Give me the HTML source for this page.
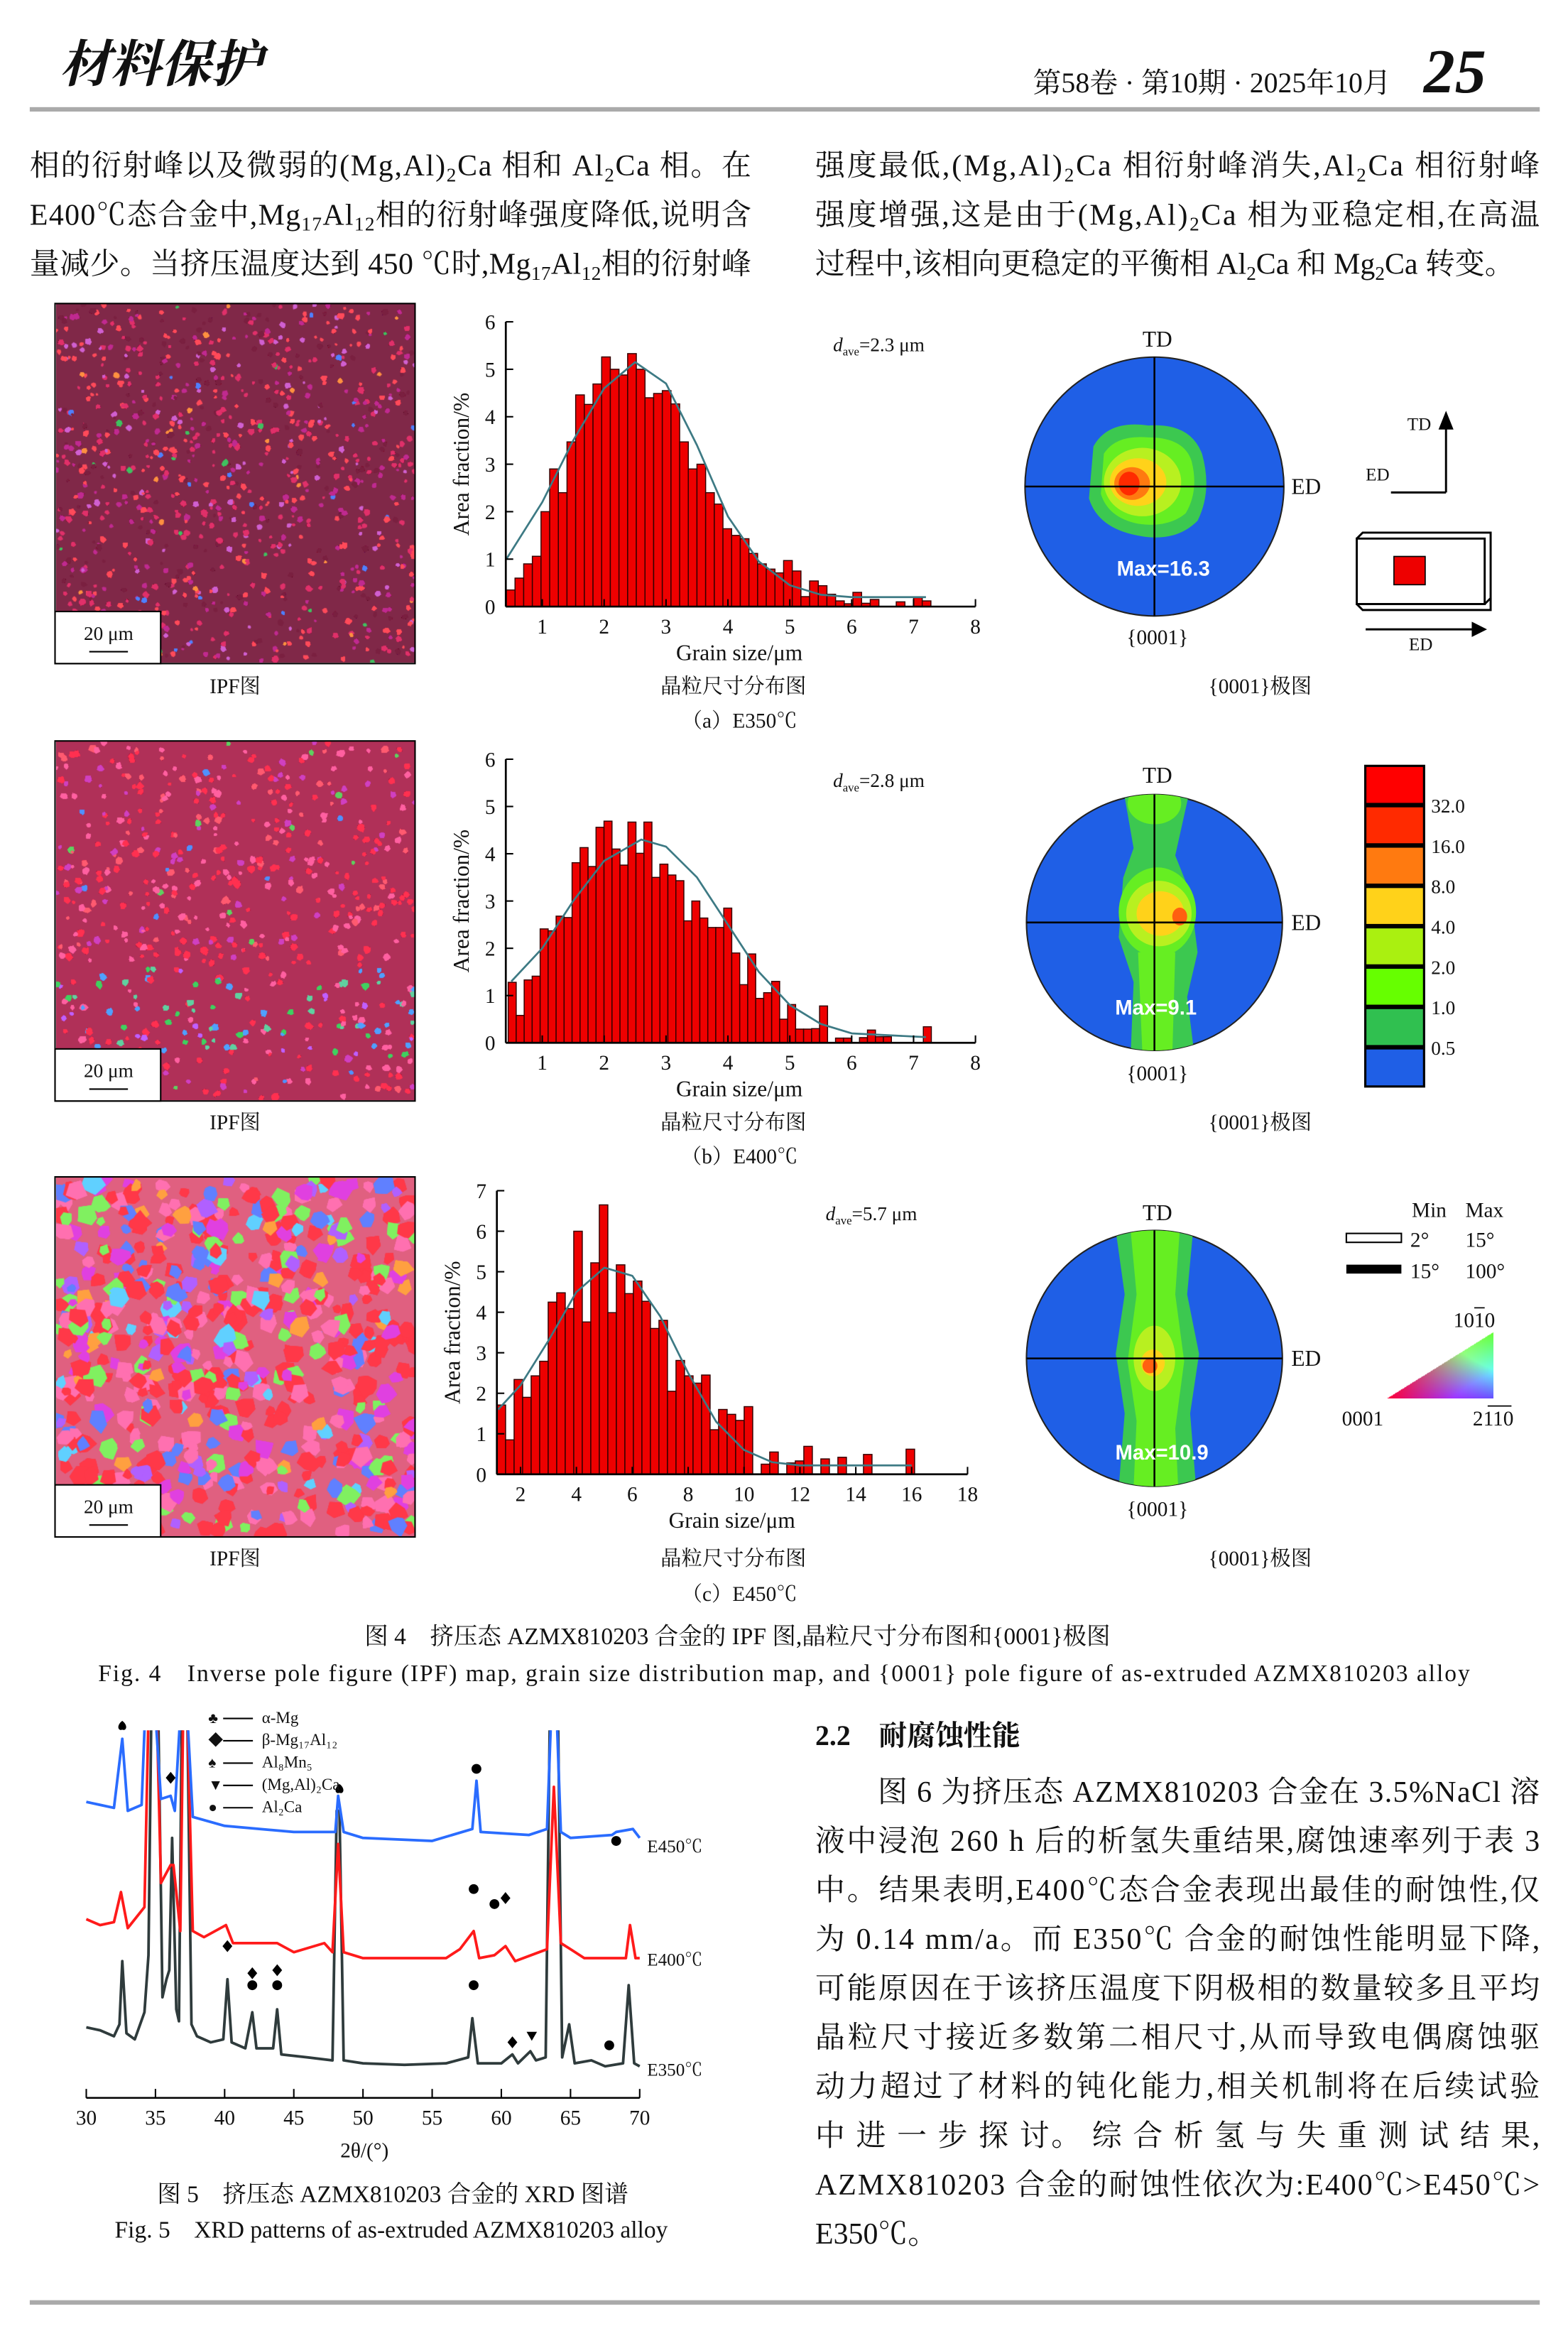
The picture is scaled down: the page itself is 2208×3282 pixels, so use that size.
<!DOCTYPE html>
<html><head><meta charset="utf-8"><style>
html,body{margin:0;padding:0;background:#fff}
#page{position:relative;width:2208px;height:3282px;overflow:hidden;background:#fff}
svg{position:absolute;left:0;top:0}
canvas{position:absolute}
text{font-family:"Liberation Serif","Noto Serif CJK SC",serif;fill:#111}
.sans{font-family:"Liberation Sans","Noto Sans CJK SC",sans-serif}
</style></head><body>
<div id="page">
<canvas id="ipfA"></canvas>
<canvas id="ipfB"></canvas>
<canvas id="ipfC"></canvas>
<canvas id="tri"></canvas>
<svg id="main" width="2208" height="3282" viewBox="0 0 1054 1566.7" preserveAspectRatio="none">
<defs>
<clipPath id="xrdClip"><rect x="55" y="1163" width="380" height="250"/></clipPath>
<clipPath id="pfA"><circle cx="776" cy="327" r="87"/></clipPath>
<clipPath id="pfB"><circle cx="776" cy="620" r="86"/></clipPath>
<clipPath id="pfC"><circle cx="776" cy="913" r="86"/></clipPath>
</defs>
<g>
<text x="40" y="55" font-size="34" font-style="italic" font-weight="bold">材料保护</text>
<text x="935" y="62" font-size="19" text-anchor="end" fill="#333">第58卷 · 第10期 · 2025年10月</text>
<text x="957" y="62" font-size="42" font-weight="bold" font-style="italic">25</text>
<rect x="20" y="72" width="1015" height="3" fill="#aaa"/>
</g>
<g font-size="20">
<text x="20" y="118" textLength="485" lengthAdjust="spacing">相的衍射峰以及微弱的(Mg,Al)<tspan font-size="13" dy="4">2</tspan><tspan dy="-4">Ca 相和 Al</tspan><tspan font-size="13" dy="4">2</tspan><tspan dy="-4">Ca 相。在</tspan></text>
<text x="20" y="151" textLength="485" lengthAdjust="spacing">E400℃态合金中,Mg<tspan font-size="13" dy="4">17</tspan><tspan dy="-4">Al</tspan><tspan font-size="13" dy="4">12</tspan><tspan dy="-4">相的衍射峰强度降低,说明含</tspan></text>
<text x="20" y="184" textLength="485" lengthAdjust="spacing">量减少。当挤压温度达到 450 ℃时,Mg<tspan font-size="13" dy="4">17</tspan><tspan dy="-4">Al</tspan><tspan font-size="13" dy="4">12</tspan><tspan dy="-4">相的衍射峰</tspan></text>
<text x="548" y="118" textLength="487" lengthAdjust="spacing">强度最低,(Mg,Al)<tspan font-size="13" dy="4">2</tspan><tspan dy="-4">Ca 相衍射峰消失,Al</tspan><tspan font-size="13" dy="4">2</tspan><tspan dy="-4">Ca 相衍射峰</tspan></text>
<text x="548" y="151" textLength="487" lengthAdjust="spacing">强度增强,这是由于(Mg,Al)<tspan font-size="13" dy="4">2</tspan><tspan dy="-4">Ca 相为亚稳定相,在高温</tspan></text>
<text x="548" y="184" textLength="470" lengthAdjust="spacing">过程中,该相向更稳定的平衡相 Al<tspan font-size="13" dy="4">2</tspan><tspan dy="-4">Ca 和 Mg</tspan><tspan font-size="13" dy="4">2</tspan><tspan dy="-4">Ca 转变。</tspan></text>
</g>
<g id="ipfFrames"></g>
<g id="histA"></g>
<g id="histB"></g>
<g id="histC"></g>
<g>
<circle cx="776" cy="327" r="87" fill="#1f5fe6" stroke="#222" stroke-width="1"/>
<g clip-path="url(#pfA)">
<path d="M735 300 Q745 282 772 286 Q800 284 808 305 Q815 330 805 350 Q790 365 765 360 Q738 355 732 335 Z" fill="#3cc850"/>
<path d="M742 305 Q750 292 772 294 Q796 294 801 310 Q806 330 797 345 Q785 355 765 352 Q745 348 740 332 Z" fill="#66ee22"/>
<ellipse cx="768" cy="324" rx="26" ry="23" fill="#b8f020"/>
<ellipse cx="765" cy="324" rx="19" ry="16" fill="#ffd21a"/>
<ellipse cx="761" cy="325" rx="12" ry="11" fill="#ff7a10"/>
<ellipse cx="759" cy="325" rx="7" ry="8" fill="#ff2a00"/>
</g>
<line x1="689" y1="327" x2="863" y2="327" stroke="#000" stroke-width="1.2"/>
<line x1="776" y1="240" x2="776" y2="414" stroke="#000" stroke-width="1.2"/>
<text x="782" y="387" font-size="14" font-weight="bold" class="sans" text-anchor="middle" style="fill:#fff">Max=16.3</text>
<text x="778" y="233" font-size="15" text-anchor="middle">TD</text>
<text x="868" y="332" font-size="15">ED</text>
<text x="778" y="433" font-size="14" text-anchor="middle">{0001}</text>
</g>
<g>
<circle cx="776" cy="620" r="86" fill="#1f5fe6" stroke="#222" stroke-width="1"/>
<g clip-path="url(#pfB)">
<path d="M755 530 L800 530 L790 575 L800 600 L805 640 L798 670 L803 710 L760 710 L762 660 L752 630 L755 590 L762 570 Z" fill="#3cc850"/>
<ellipse cx="776" cy="540" rx="18" ry="14" fill="#66ee22"/>
<path d="M765 640 L790 640 L788 710 L768 710 Z" fill="#66ee22"/>
<ellipse cx="778" cy="613" rx="26" ry="30" fill="#66ee22"/>
<ellipse cx="779" cy="614" rx="22" ry="22" fill="#b8f020"/>
<ellipse cx="780" cy="614" rx="16" ry="15" fill="#ffd21a"/>
<ellipse cx="793" cy="616" rx="5" ry="6" fill="#ff6010"/>
</g>
<line x1="690" y1="620" x2="862" y2="620" stroke="#000" stroke-width="1.2"/>
<line x1="776" y1="534" x2="776" y2="706" stroke="#000" stroke-width="1.2"/>
<text x="777" y="682" font-size="14" font-weight="bold" class="sans" text-anchor="middle" style="fill:#fff">Max=9.1</text>
<text x="778" y="526" font-size="15" text-anchor="middle">TD</text>
<text x="868" y="625" font-size="15">ED</text>
<text x="778" y="726" font-size="14" text-anchor="middle">{0001}</text>
</g>
<g>
<circle cx="776" cy="913" r="86" fill="#1f5fe6" stroke="#222" stroke-width="1"/>
<g clip-path="url(#pfC)">
<path d="M750 827 L802 827 L798 870 L806 910 L800 950 L804 1000 L752 1000 L756 950 L750 910 L756 870 Z" fill="#3cc850"/>
<path d="M760 827 L793 827 L790 870 L796 915 L790 960 L792 1000 L762 1000 L764 955 L758 915 L764 870 Z" fill="#66ee22"/>
<ellipse cx="776" cy="913" rx="14" ry="22" fill="#b8f020"/>
<ellipse cx="775" cy="916" rx="8" ry="9" fill="#ffd21a"/>
<ellipse cx="773" cy="918" rx="5" ry="5" fill="#ff6010"/>
</g>
<line x1="690" y1="913" x2="862" y2="913" stroke="#000" stroke-width="1.2"/>
<line x1="776" y1="827" x2="776" y2="999" stroke="#000" stroke-width="1.2"/>
<text x="781" y="981" font-size="14" font-weight="bold" class="sans" text-anchor="middle" style="fill:#fff">Max=10.9</text>
<text x="778" y="820" font-size="15" text-anchor="middle">TD</text>
<text x="868" y="918" font-size="15">ED</text>
<text x="778" y="1019" font-size="14" text-anchor="middle">{0001}</text>
</g>
<g stroke="#000" fill="none" stroke-width="1.4">
<line x1="972" y1="331" x2="972" y2="285"/>
<path d="M968 288 L972 278 L976 288 Z" fill="#000"/>
<line x1="972" y1="331" x2="935" y2="331"/>
<path d="M912 362 L998 362 L998 406 L912 406 Z" fill="#fff"/>
<path d="M912 362 L916 358 L1002 358 L1002 402 L998 406" />
<path d="M912 406 L916 410 L1002 410 L1002 402"/>
<rect x="937" y="374" width="21" height="19" fill="#ee0000" stroke="#000" stroke-width="0.8"/>
<line x1="918" y1="423" x2="993" y2="423"/>
<path d="M990 419 L998 423 L990 427 Z" fill="#000"/>
</g>
<text x="946" y="289" font-size="12">TD</text>
<text x="918" y="323" font-size="12">ED</text>
<text x="947" y="437" font-size="12">ED</text>
<g id="colorLegend"></g>
<g>
<text x="949" y="818" font-size="14">Min</text><text x="985" y="818" font-size="14">Max</text>
<rect x="905" y="829" width="37" height="6" fill="#fff" stroke="#000" stroke-width="1"/>
<text x="948" y="838" font-size="14">2°</text><text x="985" y="838" font-size="14">15°</text>
<rect x="905" y="850" width="37" height="6" fill="#000"/>
<text x="948" y="859" font-size="14">15°</text><text x="985" y="859" font-size="14">100°</text>
<text x="977" y="892" font-size="14">1010</text>
<line x1="991" y1="879" x2="998" y2="879" stroke="#000" stroke-width="0.8"/>
<text x="902" y="958" font-size="14">0001</text>
<text x="990" y="958" font-size="14">2110</text>
<line x1="1000" y1="945" x2="1016" y2="945" stroke="#000" stroke-width="0.8"/>
</g>
<g font-size="14">
<text x="158" y="466" text-anchor="middle">IPF图</text><text x="493" y="466" text-anchor="middle">晶粒尺寸分布图</text><text x="847" y="466" text-anchor="middle">{0001}极图</text>
<text x="497" y="489" text-anchor="middle">（a）E350℃</text>
<text x="158" y="759" text-anchor="middle">IPF图</text><text x="493" y="759" text-anchor="middle">晶粒尺寸分布图</text><text x="847" y="759" text-anchor="middle">{0001}极图</text>
<text x="497" y="782" text-anchor="middle">（b）E400℃</text>
<text x="158" y="1052" text-anchor="middle">IPF图</text><text x="493" y="1052" text-anchor="middle">晶粒尺寸分布图</text><text x="847" y="1052" text-anchor="middle">{0001}极图</text>
<text x="497" y="1076" text-anchor="middle">（c）E450℃</text>
</g>
<text x="245" y="1105" font-size="16">图 4　挤压态 AZMX810203 合金的 IPF 图,晶粒尺寸分布图和{0001}极图</text>
<text x="66" y="1130" font-size="16" textLength="922" lengthAdjust="spacing">Fig. 4　Inverse pole figure (IPF) map, grain size distribution map, and {0001} pole figure of as-extruded AZMX810203 alloy</text>
<g id="xrd"></g>
<text x="264" y="1480" font-size="16" text-anchor="middle">图 5　挤压态 AZMX810203 合金的 XRD 图谱</text>
<text x="263" y="1504" font-size="16" text-anchor="middle">Fig. 5　XRD patterns of as-extruded AZMX810203 alloy</text>
<text x="548" y="1173" font-size="19" font-weight="bold">2.2　耐腐蚀性能</text>
<g font-size="20">
<text x="590" y="1211" textLength="445" lengthAdjust="spacing">图 6 为挤压态 AZMX810203 合金在 3.5%NaCl 溶</text>
<text x="548" y="1244" textLength="487" lengthAdjust="spacing">液中浸泡 260 h 后的析氢失重结果,腐蚀速率列于表 3</text>
<text x="548" y="1277" textLength="487" lengthAdjust="spacing">中。结果表明,E400℃态合金表现出最佳的耐蚀性,仅</text>
<text x="548" y="1310" textLength="487" lengthAdjust="spacing">为 0.14 mm/a。而 E350℃ 合金的耐蚀性能明显下降,</text>
<text x="548" y="1343" textLength="487" lengthAdjust="spacing">可能原因在于该挤压温度下阴极相的数量较多且平均</text>
<text x="548" y="1376" textLength="487" lengthAdjust="spacing">晶粒尺寸接近多数第二相尺寸,从而导致电偶腐蚀驱</text>
<text x="548" y="1409" textLength="487" lengthAdjust="spacing">动力超过了材料的钝化能力,相关机制将在后续试验</text>
<text x="548" y="1442" textLength="487" lengthAdjust="spacing">中 进 一 步 探 讨。 综 合 析 氢 与 失 重 测 试 结 果,</text>
<text x="548" y="1475" textLength="487" lengthAdjust="spacing">AZMX810203 合金的耐蚀性依次为:E400℃&gt;E450℃&gt;</text>
<text x="548" y="1508">E350℃。</text>
</g>
<rect x="20" y="1546" width="1015" height="3" fill="#aaa"/>
</svg>
</div>
<script>
const binStartA = 0.42, binWidthA = 0.14;
const heightsA = [0.35,0.6,0.9,1.06,2.0,2.9,2.4,3.47,4.46,4.26,4.69,5.26,5.0,4.88,5.33,5.0,4.4,4.49,4.55,4.27,3.47,2.9,3.0,2.4,2.16,1.64,1.5,1.43,1.12,0.9,0.79,0.71,0.97,0.75,0.21,0.54,0.44,0.26,0.12,0.06,0.3,0.07,0.15,0,0,0.1,0,0.19,0.12];
const fitXA = [0.42,1,1.5,2,2.5,3,3.5,4,4.5,5,5.5,6,7.2];
const fitYA = [1.0,2.2,3.5,4.6,5.15,4.7,3.4,1.9,0.95,0.45,0.25,0.2,0.2];
const binStartB = 0.45, binWidthB = 0.129;
const heightsB = [1.28,0.58,1.33,1.41,2.41,2.37,2.68,2.65,3.81,4.13,3.73,4.56,4.69,4.1,3.76,4.67,4.01,4.67,3.5,3.78,3.55,3.43,2.58,3.0,2.64,2.44,2.44,2.85,1.9,1.23,1.88,0.94,1.06,1.3,0.5,0.81,0.29,0.29,0.3,0.78,0,0.1,0.1,0,0.11,0.27,0.13,0.13,0,0,0,0,0.34];
const fitXB = [0.5,1,1.5,2,2.6,3,3.5,4,4.5,5,5.5,6,7.2];
const fitYB = [1.3,2.0,3.0,3.85,4.3,4.15,3.5,2.5,1.5,0.8,0.4,0.2,0.12];
const binStartC = 1.16, binWidthC = 0.305;
const heightsC = [1.71,0.85,2.34,1.9,2.43,2.79,4.25,4.48,4.09,6.0,3.76,5.22,6.65,3.99,5.17,4.46,4.77,4.27,3.6,3.8,2.05,2.81,2.43,2.25,2.45,1.1,1.6,1.48,1.33,1.67,0,0.25,0.55,0,0.28,0.33,0.69,0,0.38,0,0.42,0,0,0.49,0,0,0,0,0.62];
const fitXC = [1.2,2,3,4,5,6,7,8,9,10,11,12,16];
const fitYC = [1.6,2.2,3.3,4.5,5.1,4.9,3.9,2.5,1.3,0.6,0.3,0.22,0.22];
const xTicksAB = [1,2,3,4,5,6,7,8];
const yTicksAB = [0,1,2,3,4,5,6];
const xTicksC = [2,4,6,8,10,12,14,16,18];
const yTicksC = [0,1,2,3,4,5,6,7];

const thetaE350 = [30,31,32,32.4,32.6,32.9,33.5,34.2,34.5,34.7,35.2,35.5,35.8,36.0,36.2,36.5,36.7,36.9,37.3,37.6,38,39,39.9,40.2,40.5,41.5,42,42.3,43.5,43.8,44.1,46,47.8,48.1,48.3,48.6,50,53,56,57.6,57.9,58.3,60,60.8,61.2,62.1,62.5,63.2,63.5,64.1,64.4,64.9,65.3,66.5,67.5,68.8,69.2,69.6,70];
const intE350 = [21,20,18,22,43,19,17,26,45,125,125,31,37,40,84,27,23,125,125,22,18,16,17,37,16,14,26,14,14,27,12,11,10,93,93,10,9,8.5,9,11,24,9,9,12,9,13,10,11,125,125,11,22,9,10,8,9,35,9,8];
const thetaE400 = [30,31,32,32.5,33,34.2,34.5,35.1,35.4,36.1,36.3,36.8,37.0,37.3,37.7,38.5,40.1,40.6,42,43.8,45,47.2,47.8,48.2,48.6,50,53,56,57,58,58.4,59.5,60.3,61,63.3,63.8,64.3,65,66,69,69.3,69.7,70];
const intE400 = [57,55,56,66,54,61,125,125,69,75,75,53,125,125,53,51,55,49,49,49,46,49,46,82,46,44,44,44,47,53,44,45,48,43,47,101,49,47,44,44,55,44,44];
const thetaE450 = [30,31,32,32.6,33,34,34.25,35.0,35.4,36.1,36.4,36.8,37.3,37.7,40,45,48.0,48.2,48.6,50,55,57.9,58.2,58.5,62,63.3,63.6,64.0,64.3,65,68,68.3,69.5,70];
const intE450 = [96,95,94,117,93,95,125,125,97,98,93,125,125,91,88,86,86,98,86,84,83,87,103,86,85,87,125,125,86,84,85,86,87,84];
const xrdTicks = [30,35,40,45,50,55,60,65,70];
const markerTheta = [32.6,36.1,48.3,58.2,68.3, 58.0,59.5,60.3, 40.2,42.0,42.0,43.8,43.8,58.0,60.8,62.2,67.8];
const markerInt = [121,104,100,107,83, 67,62,64, 48,39,35,40,35,35,16,18,15];
const markerSym = ['club','diamond','club','dot','dot','dot','dot','diamond','diamond','diamond','dot','diamond','dot','dot','diamond','tri','dot'];

const NS = 'http://www.w3.org/2000/svg';
function mk(tag, attrs, parent){const e=document.createElementNS(NS,tag);for(const k in attrs)e.setAttribute(k,attrs[k]);if(parent)parent.appendChild(e);return e;}

function drawHist(gid, cfg){
  const g=document.getElementById(gid);
  const xs=v=>cfg.x0+(v-cfg.xv0)*cfg.xu, ys=v=>cfg.y0-v*cfg.yu;
  cfg.h.forEach((h,i)=>{
    if(h<=0) return;
    const a=cfg.start+i*cfg.w, b=a+cfg.w;
    const r=mk('rect',{x:xs(a),y:ys(h),width:xs(b)-xs(a),height:ys(0)-ys(h),fill:'#ee0000',stroke:'#300','stroke-width':0.7},g);
    
    
  });
  let d='';cfg.fx.forEach((v,i)=>{d+=(i?'L':'M')+xs(v)+' '+ys(cfg.fy[i]);});
  const p=mk('path',{d:d,fill:'none',stroke:'#3d7a84','stroke-width':1.3,'stroke-linejoin':'round'},g);
  
  
  const ax=cfg.axisX, xEnd=xs(cfg.xt[cfg.xt.length-1]);
  mk('line',{x1:ax,y1:ys(0),x2:xEnd,y2:ys(0),stroke:'#000','stroke-width':1.3},g);
  mk('line',{x1:ax,y1:ys(0),x2:ax,y2:ys(cfg.yt[cfg.yt.length-1]),stroke:'#000','stroke-width':1.3},g);
  cfg.yt.forEach(v=>{mk('line',{x1:ax,y1:ys(v),x2:ax+5,y2:ys(v),stroke:'#000','stroke-width':1},g);
    const t=mk('text',{x:ax-7,y:ys(v)+5,'font-size':14,'text-anchor':'end'},g);t.textContent=v;
    
    });
  cfg.xt.forEach(v=>{mk('line',{x1:xs(v),y1:ys(0),x2:xs(v),y2:ys(0)-5,stroke:'#000','stroke-width':1},g);
    const t=mk('text',{x:xs(v),y:ys(0)+18,'font-size':14,'text-anchor':'middle'},g);t.textContent=v;
    
    });
  const yt=mk('text',{x:0,y:0,'font-size':15,'text-anchor':'middle',transform:`translate(${ax-25},${(ys(0)+ys(cfg.yt[cfg.yt.length-1]))/2}) rotate(-90)`},g);
  yt.textContent='Area fraction/%';
  
  
  const xt=mk('text',{x:cfg.xtitleX,y:ys(0)+36,'font-size':15,'text-anchor':'middle'},g);
  xt.textContent='Grain size/μm';
  
  
  const dt=mk('text',{x:cfg.dx,y:cfg.dy,'font-size':13},g);
  dt.innerHTML='<tspan font-style="italic">d</tspan><tspan font-size="8" dy="3">ave</tspan><tspan dy="-3">='+cfg.dtext+' μm</tspan>';
  
  
}
drawHist('histA',{h:heightsA,start:binStartA,w:binWidthA,fx:fitXA,fy:fitYA,x0:322.9,xv0:0,xu:41.6,y0:407.7,yu:31.9,axisX:340,xt:xTicksAB,yt:yTicksAB,xtitleX:497,dx:560,dy:236,dtext:'2.3'});
drawHist('histB',{h:heightsB,start:binStartB,w:binWidthB,fx:fitXB,fy:fitYB,x0:322.9,xv0:0,xu:41.6,y0:700.9,yu:31.77,axisX:340,xt:xTicksAB,yt:yTicksAB,xtitleX:497,dx:560,dy:529,dtext:'2.8'});
drawHist('histC',{h:heightsC,start:binStartC,w:binWidthC,fx:fitXC,fy:fitYC,x0:349.9,xv0:2,xu:18.78,y0:990.9,yu:27.23,axisX:334,xt:xTicksC,yt:yTicksC,xtitleX:492,dx:555,dy:820,dtext:'5.7'});

(function(){
  const g=document.getElementById('xrd');
  const tx=t=>58+(t-30)*9.3, iy=v=>1405-v*2.02;
  const cg=mk('g',{'clip-path':'url(#xrdClip)'},g);
  [[thetaE350,intE350,'#2f3b3c','xrd-line-e350'],[thetaE400,intE400,'#ff1a1a','xrd-line-e400'],[thetaE450,intE450,'#2a6cff','xrd-line-e450']].forEach(s=>{
    let d='';s[0].forEach((t,i)=>{d+=(i?'L':'M')+tx(t).toFixed(1)+' '+iy(s[1][i]).toFixed(1);});
    const p=mk('path',{d:d,fill:'none',stroke:s[2],'stroke-width':1.8,'stroke-linejoin':'round'},cg);
    
    
  });
  markerTheta.forEach((t,i)=>{
    const x=tx(t),y=iy(markerInt[i]),s=markerSym[i];let m;
    if(s==='dot') m=mk('circle',{cx:x,cy:y,r:3.3,fill:'#000'},g);
    else if(s==='diamond') m=mk('path',{d:`M${x} ${y-4}L${x+3.3} ${y}L${x} ${y+4}L${x-3.3} ${y}Z`,fill:'#000'},g);
    else if(s==='tri') m=mk('path',{d:`M${x-3.5} ${y-3}L${x+3.5} ${y-3}L${x} ${y+3}Z`,fill:'#000'},g);
    else m=mk('path',{d:`M${x} ${y-4}C${x+4} ${y-1} ${x+3} ${y+3} ${x} ${y+2}C${x-3} ${y+3} ${x-4} ${y-1} ${x} ${y-4}Z`,fill:'#000'},g);
    
    
  });
  mk('line',{x1:tx(30),y1:1410,x2:tx(70),y2:1410,stroke:'#000','stroke-width':1.2},g);
  xrdTicks.forEach(v=>{mk('line',{x1:tx(v),y1:1410,x2:tx(v),y2:1404,stroke:'#000','stroke-width':1},g);
    const t=mk('text',{x:tx(v),y:1428,'font-size':14,'text-anchor':'middle'},g);t.textContent=v;
    
    });
  const xt=mk('text',{x:245,y:1450,'font-size':14,'text-anchor':'middle'},g);xt.textContent='2θ/(°)';
  
  
  [['E450℃',1245],['E400℃',1321],['E350℃',1395]].forEach(l=>{const t=mk('text',{x:435,y:l[1],'font-size':12},g);t.textContent=l[0];
    
    });
  const leg=[['♣','α-Mg'],['◆','β-Mg₁₇Al₁₂'],['♠','Al₈Mn₅'],['▼','(Mg,Al)₂Ca'],['●','Al₂Ca']];
  leg.forEach((l,i)=>{const y=1158+i*15;
    const s=mk('text',{x:140,y:y,'font-size':10},g);s.textContent=l[0];
    mk('line',{x1:150,y1:y-3,x2:170,y2:y-3,stroke:'#000','stroke-width':1},g);
    const t=mk('text',{x:176,y:y,'font-size':11},g);t.textContent=l[1];
    
    });
})();

const legendLevels=['32.0','16.0','8.0','4.0','2.0','1.0','0.5'];
(function(){
  const g=document.getElementById('colorLegend');
  const cols=['#ff0000','#ff2a00','#ff7a10','#ffd21a','#aaf010','#66ff00','#30c050','#1f5fe6'];
  const h=217/8;
  mk('rect',{x:917,y:514,width:41,height:217,fill:'#000'},g);
  cols.forEach((c,i)=>{mk('rect',{x:918.5,y:515.5+i*h,width:38,height:h-3,fill:c},g);});
  legendLevels.forEach((l,i)=>{const t=mk('text',{x:962,y:515+(i+1)*h+4,'font-size':13},g);t.textContent=l;
    
    });
})();

(function(){
  const g=document.getElementById('ipfFrames');
  [204,498,791].forEach(y=>{
    const r=mk('rect',{x:37,y:y,width:242,height:242,fill:'none',stroke:'#000','stroke-width':1},g);
    
    
    mk('rect',{x:37,y:y+207,width:71,height:35,fill:'#fff',stroke:'#000','stroke-width':1},g);
    const t=mk('text',{x:73,y:y+226,'font-size':13,'text-anchor':'middle'},g);t.textContent='20 μm';
    
    
    mk('line',{x1:60,y1:y+234,x2:86,y2:y+234,stroke:'#000','stroke-width':1},g);
  });
})();

const K=2208/1054;
let seed=12345;function rnd(){seed=(seed*1103515245+12345)&0x7fffffff;return seed/0x7fffffff;}
function setupCanvas(id,x,y,w,h){const c=document.getElementById(id);c.width=Math.round(w*K);c.height=Math.round(h*K);
  c.style.left=(x*K)+'px';c.style.top=(y*K)+'px';return c.getContext('2d');}
function pick(arr){let s=0;arr.forEach(a=>s+=a[1]);let r=rnd()*s;for(const a of arr){r-=a[1];if(r<=0)return a[0];}return arr[0][0];}
function grains(ctx,W,H,size,bg,palette,bandFn,dens){
  ctx.fillStyle=bg;ctx.fillRect(0,0,W,H);
  const n=Math.round(W*H/(size*size)*dens);
  for(let i=0;i<n;i++){const x=rnd()*W,y=rnd()*H;const pal=bandFn?bandFn(y/H):palette;
    ctx.fillStyle=pick(pal);const r=size*(0.35+rnd()*0.45);
    ctx.beginPath();const k=5+Math.floor(rnd()*3);
    for(let j=0;j<k;j++){const a=j/k*6.283+rnd()*0.5,rr=r*(0.7+rnd()*0.5);const px=x+Math.cos(a)*rr,py=y+Math.sin(a)*rr;j?ctx.lineTo(px,py):ctx.moveTo(px,py);}
    ctx.closePath();ctx.fill();}
}
const palA=[['#e0306a',5],['#c02a90',3],['#ff4a5a',4],['#d060d0',2],['#7a2040',3],['#40c060',0.4],['#5080ff',0.4],['#ff9040',0.5]];
const palB=[['#ff3050',6],['#ff60a0',4],['#d040c0',2],['#ff5a70',3],['#60d060',0.3],['#5090ff',0.4]];
const palBand=[['#ff3050',3],['#ff60a0',2],['#60d0a0',2],['#50a0ff',2.5],['#40d060',1.5],['#c060ff',1.5]];
const palC=[['#ff3848',6],['#ff70b0',3],['#e040e0',2],['#80f060',2],['#6080ff',1.5],['#ffa040',1],['#60d0ff',0.8],['#b060ff',1]];
(function(){
  let c=setupCanvas('ipfA',37.5,204.5,241,241);grains(c,c.canvas.width,c.canvas.height,6,'#802848',palA,null,4);
  c=setupCanvas('ipfB',37.5,498.5,241,241);grains(c,c.canvas.width,c.canvas.height,7,'#b03058',palB,f=>(f>0.42&&f<0.88)?(f>0.62?palBand:palB):palB,4);
  c=setupCanvas('ipfC',37.5,791.5,241,241);grains(c,c.canvas.width,c.canvas.height,20,'#e06080',palC,null,4);
  const t=setupCanvas('tri',932,895,72,45);const W=t.canvas.width,H=t.canvas.height;
  const img=t.createImageData(W,H);
  for(let y=0;y<H;y++)for(let x=0;x<W;x++){const fx=x/W,fy=y/H;const i=(y*W+x)*4;
    if(fy < 1 - fx) {img.data[i+3]=0;continue;}
    const r=255*(1-fx*0.6), gg=255*(fx*(1-fy)*1.6+0.3*fx), b=255*(fx*fy*1.3+0.2);
    img.data[i]=Math.min(255,r);img.data[i+1]=Math.min(255,gg);img.data[i+2]=Math.min(255,b);img.data[i+3]=255;}
  t.putImageData(img,0,0);
})();
</script>
</body></html>
